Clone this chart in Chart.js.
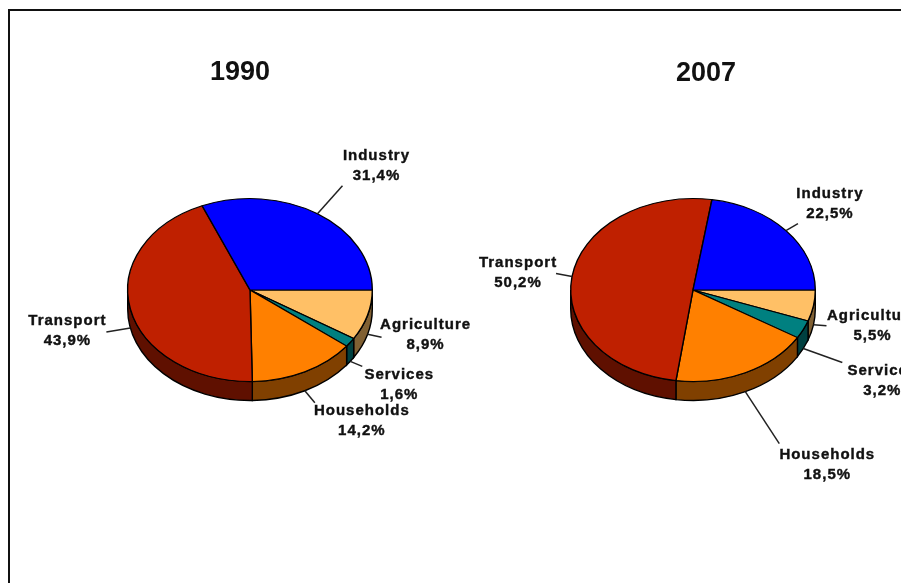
<!DOCTYPE html>
<html>
<head>
<meta charset="utf-8">
<script src="https://cdn.jsdelivr.net/npm/chart.js@4"></script>
<style>
html,body{margin:0;padding:0;background:#fff;width:901px;height:583px;overflow:hidden}
#frame{position:absolute;left:8px;top:9px;width:1000px;height:700px;border-top:2px solid #111;border-left:2px solid #111}
canvas{position:absolute;top:0;filter:blur(0.5px)}
#c1{left:0}
#c2{left:450px}
</style>
</head>
<body>
<div id="frame"></div>
<canvas id="c1" width="480" height="583"></canvas>
<canvas id="c2" width="451" height="583"></canvas>
<script>
const categories = ["Agriculture", "Services", "Households", "Transport", "Industry"];
const values1990 = [8.9, 1.6, 14.2, 43.9, 31.4];
const values2007 = [5.5, 3.2, 18.5, 50.2, 22.5];
const topColors = ["#FFC066", "#008080", "#FF8000", "#BF2000", "#0000FF"];
const sideColors = ["#806033", "#004040", "#804000", "#5F1000", "#000080"];

// Label layout: offsets from each slice's rim anchor [leaderDx, leaderDy, labelDx, labelDy]
const layout1990 = [[14,3,58,-9],[12,5,49,13],[10,12,57,20],[-24,4,-63,-7],[25,-28,59,-58]];
const layout2007 = [[13,1,59,-9],[39,14,79,22],[34,52,82,63],[-16,-3,-54,-14],[12,-7,44,-37]];

const SQUASH = 92 / 123;
const DEPTH = 19;
const FONT_FAMILY = '"Liberation Sans", Arial, sans-serif';

function pie3d(title, titleDx, titleY, layout) {
  return {
    id: 'pie3d',
    beforeDatasetsDraw(chart) {
      const ctx = chart.ctx;
      const arcs = chart.getDatasetMeta(0).data;
      const cx = arcs[0].x, cy = arcs[0].y, r = arcs[0].outerRadius, ry = r * SQUASH;
      ctx.save();
      ctx.lineWidth = 1.4;
      ctx.strokeStyle = '#000';
      arcs.forEach((a, i) => {
        const s = Math.max(a.startAngle, 0), e = Math.min(a.endAngle, Math.PI);
        if (e <= s) return;
        ctx.beginPath();
        ctx.ellipse(cx, cy, r, ry, 0, s, e);
        ctx.ellipse(cx, cy + DEPTH, r, ry, 0, e, s, true);
        ctx.closePath();
        ctx.fillStyle = sideColors[i];
        ctx.fill();
        ctx.stroke();
      });
      ctx.restore();
      ctx.save();
      ctx.translate(cx, cy);
      ctx.scale(1, SQUASH);
      ctx.translate(-cx, -cy);
    },
    afterDatasetsDraw(chart) {
      const ctx = chart.ctx;
      ctx.restore();
      const arcs = chart.getDatasetMeta(0).data;
      const values = chart.data.datasets[0].data;
      const cx = arcs[0].x, cy = arcs[0].y, r = arcs[0].outerRadius, ry = r * SQUASH;
      ctx.save();
      ctx.textAlign = 'center';
      ctx.textBaseline = 'middle';
      ctx.fillStyle = '#111';
      ctx.strokeStyle = '#111';
      ctx.font = 'bold 27px ' + FONT_FAMILY;
      ctx.fillText(title, cx + titleDx, titleY);
      ctx.font = 'bold 15px ' + FONT_FAMILY;
      ctx.letterSpacing = '1px';
      arcs.forEach((a, i) => {
        const mid = (a.startAngle + a.endAngle) / 2;
        const sin = Math.sin(mid);
        const ax = cx + r * Math.cos(mid);
        const ay = cy + ry * sin + (sin > 0 ? DEPTH : 0);
        const [ldx, ldy, tdx, tdy] = layout[i];
        ctx.beginPath();
        ctx.moveTo(ax, ay);
        ctx.lineTo(ax + ldx, ay + ldy);
        ctx.strokeStyle = '#222';
        ctx.lineWidth = 1.5;
        ctx.stroke();
        ctx.strokeStyle = '#111';
        ctx.lineWidth = 0.4;
        const pct = values[i].toFixed(1).replace('.', ',') + '%';
        ctx.fillText(categories[i], ax + tdx, ay + tdy);
        ctx.strokeText(categories[i], ax + tdx, ay + tdy);
        ctx.fillText(pct, ax + tdx, ay + tdy + 20);
        ctx.strokeText(pct, ax + tdx, ay + tdy + 20);
      });
      ctx.restore();
    }
  };
}

function makeChart(id, values, padding, title, titleDx, titleY, layout) {
  return new Chart(document.getElementById(id), {
    type: 'pie',
    data: {
      labels: categories,
      datasets: [{ data: values, backgroundColor: topColors, borderColor: '#000', borderWidth: 1.4 }]
    },
    options: {
      responsive: false,
      animation: false,
      rotation: 90,
      layout: { padding },
      plugins: { legend: { display: false }, tooltip: { enabled: false }, title: { display: false } }
    },
    plugins: [pie3d(title, titleDx, titleY, layout)]
  });
}

makeChart('c1', values1990, { left: 127, right: 107, top: 167, bottom: 170 }, '1990', -10, 73, layout1990);
makeChart('c2', values2007, { left: 120, right: 85, top: 167, bottom: 170 }, '2007', 13, 74, layout2007);
</script>
</body>
</html>
